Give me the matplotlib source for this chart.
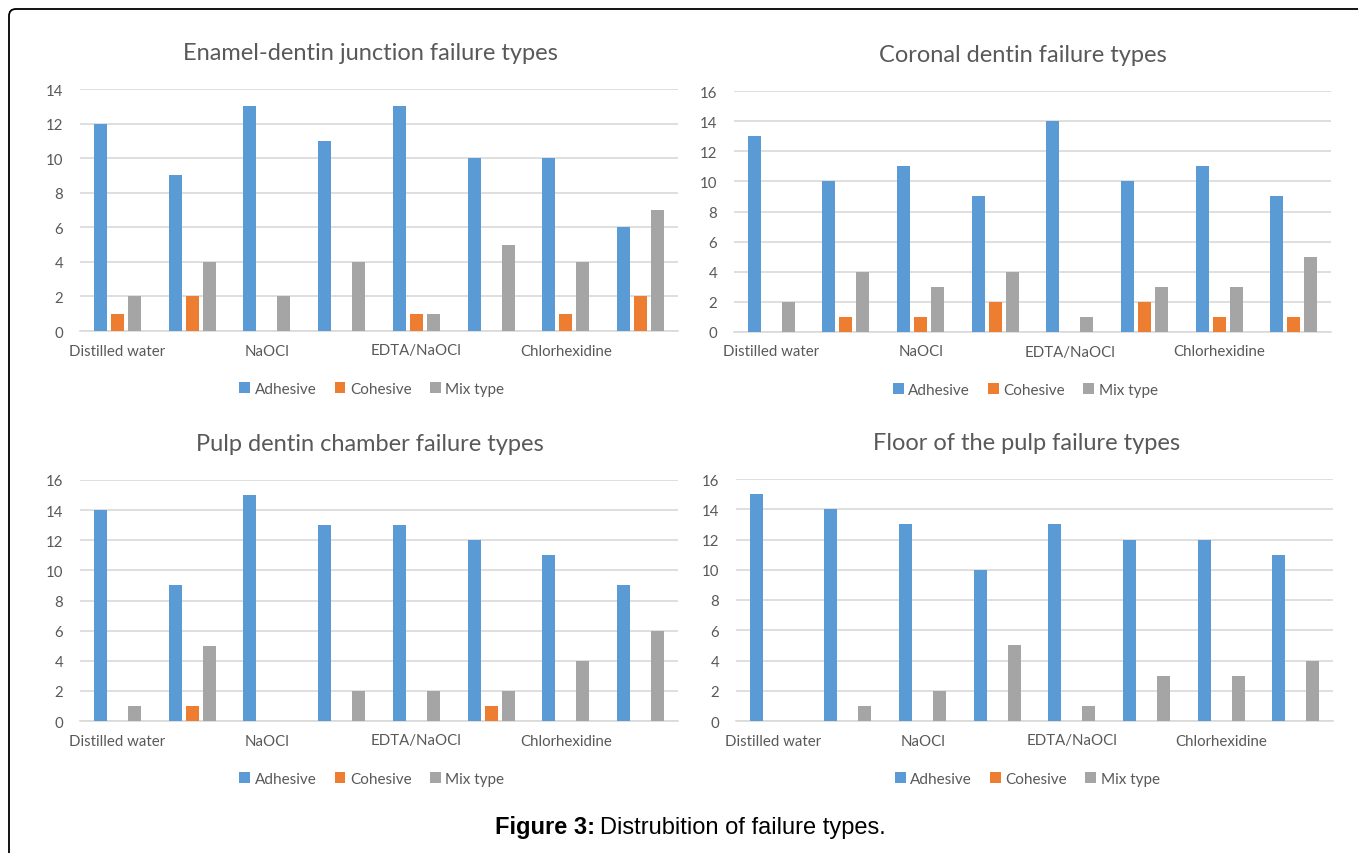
import numpy as np
import matplotlib
matplotlib.use("Agg")
import matplotlib.pyplot as plt
from matplotlib.patches import FancyBboxPatch
from matplotlib.transforms import IdentityTransform

# group labels (Excel only shows every other one)
groups = ["Distilled water", "", "NaOCl", "", "EDTA/NaOCl", "", "Chlorhexidine", ""]
series = ["Adhesive", "Cohesive", "Mix type"]
colors = ["#5B9BD5", "#ED7D31", "#A5A5A5"]

# Enamel-dentin junction
edj_adhesive = [12, 9, 13, 11, 13, 10, 10, 6]
edj_cohesive = [1, 2, 0, 0, 1, 0, 1, 2]
edj_mix = [2, 4, 2, 4, 1, 5, 4, 7]

# Coronal dentin
cor_adhesive = [13, 10, 11, 9, 14, 10, 11, 9]
cor_cohesive = [0, 1, 1, 2, 0, 2, 1, 1]
cor_mix = [2, 4, 3, 4, 1, 3, 3, 5]

# Pulp dentin chamber
pdc_adhesive = [14, 9, 15, 13, 13, 12, 11, 9]
pdc_cohesive = [0, 1, 0, 0, 0, 1, 0, 0]
pdc_mix = [1, 5, 0, 2, 2, 2, 4, 6]

# Floor of the pulp
flr_adhesive = [15, 14, 13, 10, 13, 12, 12, 11]
flr_cohesive = [0, 0, 0, 0, 0, 0, 0, 0]
flr_mix = [0, 1, 2, 5, 1, 3, 3, 4]

panels = [
    ("Enamel-dentin junction failure types", [edj_adhesive, edj_cohesive, edj_mix], 14),
    ("Coronal dentin failure types", [cor_adhesive, cor_cohesive, cor_mix], 16),
    ("Pulp dentin chamber failure types", [pdc_adhesive, pdc_cohesive, pdc_mix], 16),
    ("Floor of the pulp failure types", [flr_adhesive, flr_cohesive, flr_mix], 16),
]

W, H = 1358, 854
# axes boxes in pixels: left, top, right, bottom
boxes = [(80, 90, 678, 332), (734, 92, 1331, 333),
         (80, 481, 678, 722), (736, 480, 1333, 722)]
title_x = [0.485, 0.484, 0.485, 0.486]

plt.rcParams['font.family'] = ['Lato', 'DejaVu Sans']
txt = "#595959"
grid = "#D9D9D9"

fig = plt.figure(figsize=(W / 100, H / 100), dpi=100)

x = np.arange(len(groups))
bw = 0.175
off = 0.228

for (title, vals, ymax), (l, t, r, b), tx in zip(panels, boxes, title_x):
    ax = fig.add_axes([l / W, 1 - b / H, (r - l) / W, (b - t) / H])
    for k, (name, v, c) in enumerate(zip(series, vals, colors)):
        ax.bar(x + (k - 1) * off, v, width=bw, color=c, label=name, zorder=3)
    ax.set_xlim(-0.5, len(groups) - 0.5)
    ax.set_ylim(0, ymax)
    ax.set_yticks(np.arange(0, ymax + 1, 2))
    ax.set_xticks(x)
    ax.set_xticklabels(groups)
    ax.yaxis.grid(True, color=grid, lw=1.2, zorder=0)
    ax.set_axisbelow(True)
    for s in ["top", "right", "left"]:
        ax.spines[s].set_visible(False)
    ax.spines["bottom"].set_color(grid)
    ax.spines["bottom"].set_linewidth(1.2)
    ax.tick_params(axis="both", length=0, labelsize=10.8, labelcolor=txt)
    ax.tick_params(axis="y", pad=12)
    ax.tick_params(axis="x", pad=9)
    ax.text(tx, 1 + 37 / (b - t), title, transform=ax.transAxes,
            ha="center", va="center", fontsize=17, color=txt)
    ax.legend(loc="center", bbox_to_anchor=(0.488, -58 / (b - t)), ncol=3,
              frameon=False, fontsize=11, labelcolor=txt,
              handlelength=0.7, handleheight=0.7, handletextpad=0.3,
              columnspacing=1.2)

# outer frame with rounded top-left corner
frame = FancyBboxPatch((9, -60), W + 60, H - 10 + 60,
                       boxstyle="round,pad=0,rounding_size=7",
                       transform=IdentityTransform(), fill=False,
                       edgecolor="black", lw=1.3)
fig.add_artist(frame)

# caption: bold "Figure 3:" followed by normal text, centred as a whole
cap_y = 1 - 828 / H
cap_fs = 17
t1 = fig.text(0, cap_y, "Figure 3:", fontsize=cap_fs, fontweight="bold",
              family="Liberation Sans", ha="left", va="center")
t2 = fig.text(0, cap_y, "Distrubition of failure types.", fontsize=cap_fs,
              family="Liberation Sans", ha="left", va="center")
fig.canvas.draw()
w1 = t1.get_window_extent().width
w2 = t2.get_window_extent().width
gap = 5
x0 = 690 - (w1 + gap + w2) / 2
t1.set_x(x0 / W)
t2.set_x((x0 + w1 + gap) / W)

fig.savefig("out.png", dpi=100)
